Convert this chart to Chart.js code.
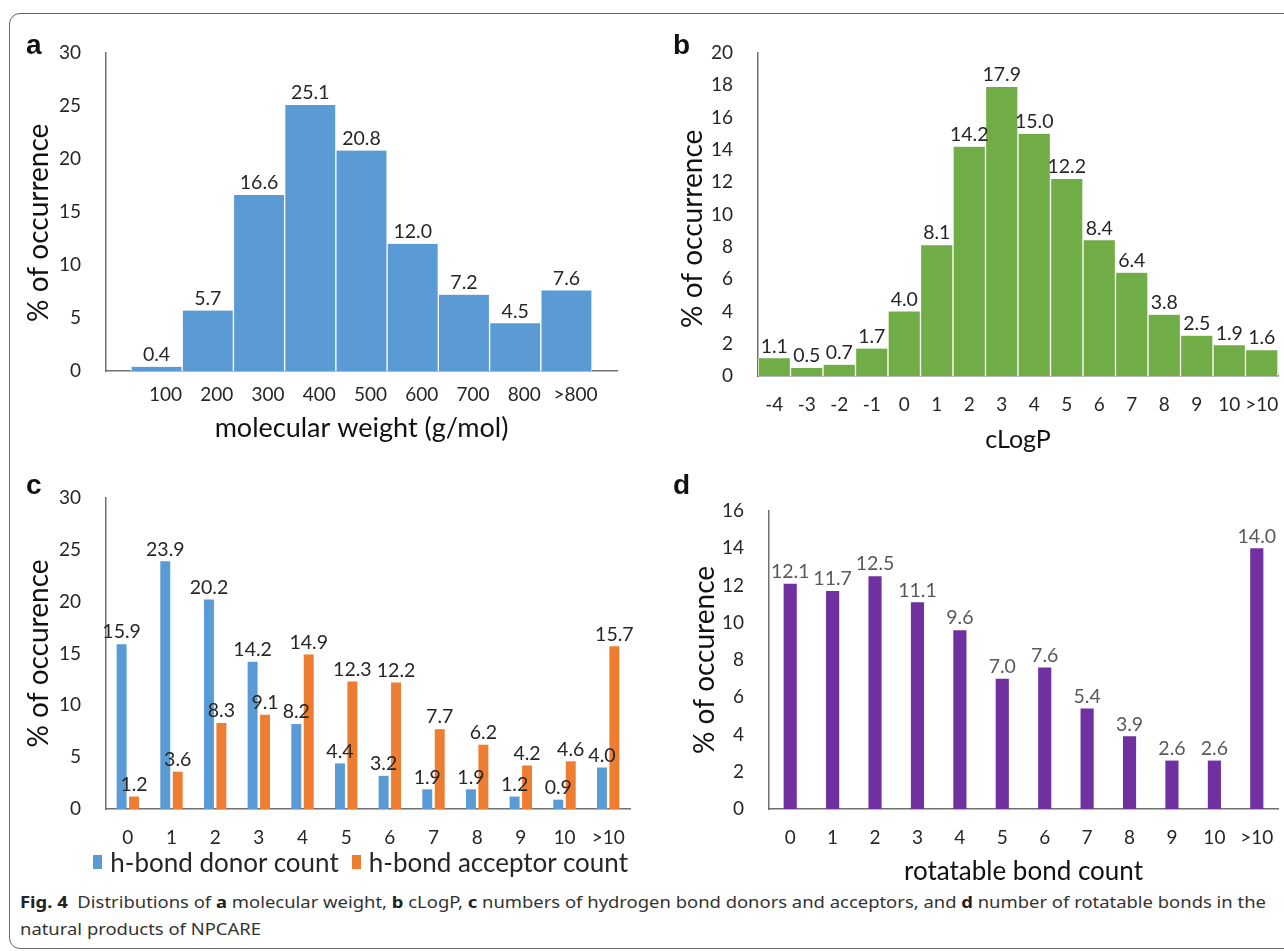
<!DOCTYPE html>
<html>
<head>
<meta charset="utf-8">
<script src="https://cdn.jsdelivr.net/npm/chart.js@4.4.1/dist/chart.umd.min.js"></script>
<style>
  body { margin: 0; background: #fff; width: 1284px; height: 951px; overflow: hidden; position: relative; font-family: Lato, sans-serif; }
  .frame { position: absolute; left: 9px; top: 13px; width: 1320px; height: 934px; border: 1.5px solid #666; border-radius: 11px; }
  canvas { position: absolute; }
  .tag { position: absolute; font: bold 28px "Liberation Sans", Arial, sans-serif; color: #111; line-height: 1; }
  .cap { position: absolute; left: 20px; white-space: nowrap; font: 16px "Noto Sans", sans-serif; color: #333; transform-origin: 0 50%; }
  .cap b { color: #222; }
  #legend { position: absolute; right: 656px; top: 847px; height: 30px; display: flex; align-items: center; font: 26px Lato; color: #262626; white-space: nowrap; }
  #legend .item { display: flex; align-items: center; margin-left: 13px; }
  #legend .box { width: 9px; height: 14px; margin-right: 8px; }
</style>
</head>
<body>
<div class="frame"></div>

<canvas id="mw" width="610" height="420" style="left:20px;top:30px"></canvas>
<canvas id="logp" width="634" height="440" style="left:650px;top:30px"></canvas>
<canvas id="hbond" width="625" height="400" style="left:20px;top:470px"></canvas>
<canvas id="rot" width="634" height="420" style="left:650px;top:470px"></canvas>
<div id="legend"></div>

<div class="tag" style="left:26px;top:31px">a</div>
<div class="tag" style="left:673px;top:31px">b</div>
<div class="tag" style="left:26px;top:471px">c</div>
<div class="tag" style="left:673px;top:471px">d</div>

<div class="cap" id="cap1" style="top:891px"><b>Fig. 4</b>&nbsp; Distributions of <b>a</b> molecular weight, <b>b</b> cLogP, <b>c</b> numbers of hydrogen bond donors and acceptors, and <b>d</b> number of rotatable bonds in the</div>
<div class="cap" id="cap2" style="top:918px">natural products of NPCARE</div>

<script>
// panel a: molecular weight
const mwLabels = ['100', '200', '300', '400', '500', '600', '700', '800', '>800'];
const mwValues = [0.4, 5.7, 16.6, 25.1, 20.8, 12.0, 7.2, 4.5, 7.6];

// panel b: cLogP
const logpLabels = ['-4', '-3', '-2', '-1', '0', '1', '2', '3', '4', '5', '6', '7', '8', '9', '10', '>10'];
const logpValues = [1.1, 0.5, 0.7, 1.7, 4.0, 8.1, 14.2, 17.9, 15.0, 12.2, 8.4, 6.4, 3.8, 2.5, 1.9, 1.6];

// panels c and d share the count categories
const countLabels = ['0', '1', '2', '3', '4', '5', '6', '7', '8', '9', '10', '>10'];
const donorValues = [15.9, 23.9, 20.2, 14.2, 8.2, 4.4, 3.2, 1.9, 1.9, 1.2, 0.9, 4.0];
const acceptorValues = [1.2, 3.6, 8.3, 9.1, 14.9, 12.3, 12.2, 7.7, 6.2, 4.2, 4.6, 15.7];
const rotValues = [12.1, 11.7, 12.5, 11.1, 9.6, 7.0, 7.6, 5.4, 3.9, 2.6, 2.6, 14.0];

const GRAY = '#707070';
const INK = '#262626';

Chart.defaults.font.family = 'Lato';
Chart.defaults.animation = false;

// draws the value above every bar
const valueLabels = {
    id: 'valueLabels',
    afterDatasetsDraw(chart, args, opts) {
        const ctx = chart.ctx;
        ctx.save();
        ctx.font = (opts.size || 19.5) + 'px Lato';
        ctx.fillStyle = opts.color || INK;
        ctx.textAlign = 'center';
        ctx.textBaseline = 'middle';
        chart.data.datasets.forEach((ds, i) => {
            chart.getDatasetMeta(i).data.forEach((bar, j) => {
                const v = ds.data[j];
                const y = typeof v === 'object' ? v.y : v;
                ctx.fillText(y.toFixed(1), bar.x, bar.y - 12);
            });
        });
        ctx.restore();
    }
};
Chart.register(valueLabels);

// the gap between axis and tick text comes from an invisible tick mark,
// ticks.padding would also pad the chart area
function yAxis(max, step, width, title, titlePad) {
    return {
        min: 0,
        max: max,
        grid: { display: false, drawTicks: true, tickLength: 25 },
        border: { color: GRAY, width: 1.5 },
        ticks: { stepSize: step, padding: 0, color: INK, font: { size: 19 } },
        title: {
            display: true, text: title, color: '#111',
            font: { size: 28 }, padding: { top: titlePad, bottom: 0 }
        },
        afterFit(s) { s.width = width; }
    };
}

function xAxis(height, tickGap, title, titleSize, titlePad) {
    return {
        offset: true,
        grid: { display: false, drawTicks: true, tickLength: tickGap },
        border: { color: GRAY, width: 1.5 },
        ticks: { padding: 0, color: INK, font: { size: 19 }, maxRotation: 0, autoSkip: false },
        title: {
            display: !!title, text: title, color: '#111',
            font: { size: titleSize }, padding: { top: 0, bottom: titlePad }
        },
        afterFit(s) { s.height = height; }
    };
}

// a — linear x so the histogram can sit off the axis ends
const mwX = xAxis(79, 12.6, 'molecular weight (g/mol)', 27, 5.8);
mwX.type = 'linear';
mwX.offset = false;
mwX.min = -0.987;
mwX.max = 8.987;
mwX.ticks.stepSize = 1;
mwX.ticks.includeBounds = false;
mwX.ticks.labelOffset = 9;
mwX.ticks.callback = v => mwLabels[v] ?? '';

new Chart(document.getElementById('mw'), {
    type: 'bar',
    data: {
        datasets: [{
            data: mwValues.map((v, i) => ({ x: i, y: v })),
            backgroundColor: '#5b9bd5',
            borderColor: '#ffffff',
            borderWidth: { left: 1, right: 1, top: 0, bottom: 0 },
            barPercentage: 1,
            categoryPercentage: 1
        }]
    },
    options: {
        responsive: false,
        layout: { padding: { top: 23, right: 13, left: 0, bottom: 0 } },
        // trailing spaces nudge the rotated title down, as in the source figure
        scales: { x: mwX, y: yAxis(30, 5, 86, '% of occurrence   ', 2.2) },
        plugins: { legend: { display: false }, tooltip: { enabled: false } }
    }
});

// b
new Chart(document.getElementById('logp'), {
    type: 'bar',
    data: {
        labels: logpLabels,
        datasets: [{
            data: logpValues,
            backgroundColor: '#70ad47',
            borderColor: '#ffffff',
            borderWidth: { left: 1, right: 1, top: 0, bottom: 0 },
            barPercentage: 1,
            categoryPercentage: 1
        }]
    },
    options: {
        responsive: false,
        layout: { padding: { top: 23, right: 6, left: 0, bottom: 0 } },
        scales: { x: xAxis(94, 17.6, 'cLogP', 25, 15), y: yAxis(20, 2, 108, '% of occurrence    ', 26.2) },
        plugins: { legend: { display: false }, tooltip: { enabled: false } }
    }
});

// c
const hbondChart = new Chart(document.getElementById('hbond'), {
    type: 'bar',
    data: {
        labels: countLabels,
        datasets: [
            { label: 'h-bond donor count', data: donorValues, backgroundColor: '#5b9bd5' },
            { label: 'h-bond acceptor count', data: acceptorValues, backgroundColor: '#ed7d31' }
        ]
    },
    options: {
        responsive: false,
        datasets: { bar: { barPercentage: 0.8, categoryPercentage: 0.57 } },
        layout: { padding: { top: 28, right: 15, left: 0, bottom: 0 } },
        scales: { x: xAxis(61, 17.6, '', 24, 0), y: yAxis(30, 5, 86, '% of occurence', 2.2) },
        plugins: { legend: { display: false }, tooltip: { enabled: false } }
    }
});

// legend for c, built from the chart's own datasets
const legendEl = document.getElementById('legend');
hbondChart.data.datasets.forEach(ds => {
    const item = document.createElement('span');
    item.className = 'item';
    const box = document.createElement('span');
    box.className = 'box';
    box.style.background = ds.backgroundColor;
    item.appendChild(box);
    item.appendChild(document.createTextNode(ds.label));
    legendEl.appendChild(item);
});

// d
new Chart(document.getElementById('rot'), {
    type: 'bar',
    data: {
        labels: countLabels,
        datasets: [{
            data: rotValues,
            backgroundColor: '#7030a0',
            barPercentage: 0.31,
            categoryPercentage: 1
        }]
    },
    options: {
        responsive: false,
        layout: { padding: { top: 41, right: 6, left: 0, bottom: 0 } },
        scales: { x: xAxis(81, 17.6, 'rotatable bond count', 26, 2.4), y: yAxis(16, 2, 119, '% of occurence', 38.2) },
        plugins: {
            legend: { display: false },
            tooltip: { enabled: false },
            valueLabels: { color: '#595959' }
        }
    }
});

// squeeze the caption to the figure width
const cap1 = document.getElementById('cap1');
const cap2 = document.getElementById('cap2');
const k = 1246 / cap1.offsetWidth;
cap1.style.transform = 'scaleX(' + k + ')';
cap2.style.transform = 'scaleX(' + k + ')';
</script>
</body>
</html>
